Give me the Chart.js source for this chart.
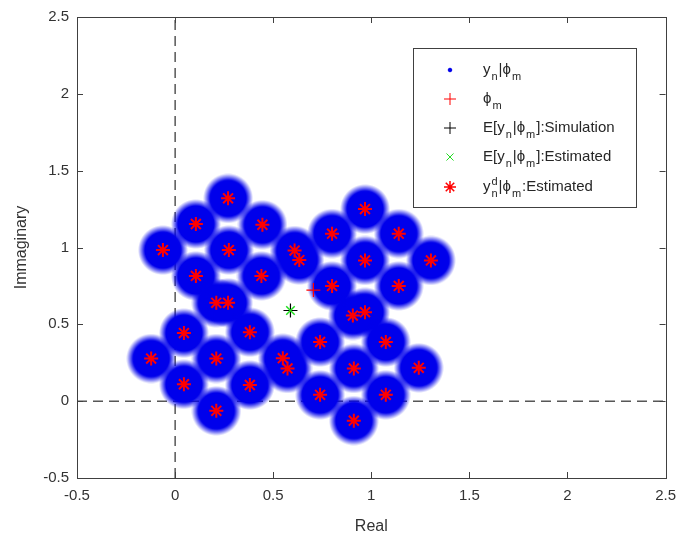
<!DOCTYPE html>
<html lang="en">
<head>
    <meta charset="UTF-8" />
    <title>Constellation Scatter</title>
    <script src="https://cdn.jsdelivr.net/npm/chart.js"></script>
    <style>
        * { box-sizing: border-box; margin: 0; padding: 0; }
        body { background: #fff; }
        canvas { display: block; }
    </style>
</head>
<body>
    <canvas id="constChart" width="685" height="546"></canvas>

    <script>
        // estimated cluster centres y^d_n | phi_m (red asterisks, blue clouds around them)
        const ydRe = [
            0.27, 0.106, 0.445, -0.062, 0.274, 0.106, 0.44, 0.21, 0.27,
            0.968, 0.80, 1.14, 0.609, 0.633, 0.968, 1.304, 0.80, 1.14, 0.906, 0.968,
            0.045, 0.381, -0.122, 0.21, 0.549, 0.573, 0.045, 0.381, 0.21,
            0.739, 1.074, 0.911, 1.242, 0.739, 1.074, 0.911
        ];
        const ydIm = [
            1.32, 1.153, 1.148, 0.983, 0.983, 0.815, 0.815, 0.64, 0.64,
            1.25, 1.09, 1.09, 0.98, 0.918, 0.916, 0.916, 0.75, 0.75, 0.557, 0.579,
            0.443, 0.449, 0.277, 0.277, 0.28, 0.213, 0.11, 0.105, -0.063,
            0.385, 0.385, 0.213, 0.217, 0.041, 0.041, -0.127
        ];
        // phi_m
        const phiRe = [0.705];
        const phiIm = [0.723];
        // E[y_n | phi_m], simulation and estimate
        const simRe = [0.588];
        const simIm = [0.59];
        const estRe = [0.588];
        const estIm = [0.59];

        const axisMin = -0.5;
        const axisMax = 2.5;
        const xTickLabels = ['-0.5', '0', '0.5', '1', '1.5', '2', '2.5'];
        const yTickLabels = ['-0.5', '0', '0.5', '1', '1.5', '2', '2.5'];

        const toPts = (re, im) => re.map((x, i) => ({ x: x, y: im[i] }));

        const BLUE = 'rgb(0,0,235)';
        const FONT = "'Liberation Sans', Arial, sans-serif";

        // soft blue disk used as the marker for each sample cloud
        function makeCloud(rSolid, rOuter) {
            const c = document.createElement('canvas');
            const s = Math.ceil(rOuter * 2);
            c.width = s;
            c.height = s;
            const g = c.getContext('2d');
            const grad = g.createRadialGradient(s / 2, s / 2, 0, s / 2, s / 2, rOuter);
            grad.addColorStop(0, 'rgba(0,0,235,1)');
            grad.addColorStop(rSolid / rOuter, 'rgba(0,0,235,1)');
            grad.addColorStop(1, 'rgba(0,0,235,0)');
            g.fillStyle = grad;
            g.fillRect(0, 0, s, s);
            return c;
        }
        const cloud = makeCloud(18, 25);

        // box, inward ticks and the legend
        const framePlugin = {
            id: 'frame',
            afterDraw(chart) {
                const ctx = chart.ctx;
                const a = chart.chartArea;
                const xs = chart.scales.x, ys = chart.scales.y;
                ctx.save();
                ctx.strokeStyle = '#404040';
                ctx.lineWidth = 1;
                ctx.strokeRect(Math.round(a.left) + 0.5, Math.round(a.top) + 0.5,
                    Math.round(a.right - a.left), Math.round(a.bottom - a.top));
                ctx.beginPath();
                xs.ticks.forEach(t => {
                    const px = Math.round(xs.getPixelForValue(t.value)) + 0.5;
                    ctx.moveTo(px, a.bottom); ctx.lineTo(px, a.bottom - 6);
                    ctx.moveTo(px, a.top); ctx.lineTo(px, a.top + 6);
                });
                ys.ticks.forEach(t => {
                    const py = Math.round(ys.getPixelForValue(t.value)) + 0.5;
                    ctx.moveTo(a.left, py); ctx.lineTo(a.left + 6, py);
                    ctx.moveTo(a.right, py); ctx.lineTo(a.right - 6, py);
                });
                ctx.stroke();

                // legend
                const bx = 413.5, by = 48.5, bw = 223, bh = 159;
                ctx.fillStyle = '#fff';
                ctx.fillRect(bx, by, bw, bh);
                ctx.strokeStyle = '#404040';
                ctx.strokeRect(bx, by, bw, bh);

                const entries = [
                    { style: 'circle', r: 1.8, color: BLUE, lw: 1,
                      parts: [['y'], ['n', 'sub'], ['|ϕ'], ['m', 'sub']] },
                    { style: 'cross', r: 6, color: '#ff0000', lw: 1,
                      parts: [['ϕ'], ['m', 'sub']] },
                    { style: 'cross', r: 6, color: '#000', lw: 1,
                      parts: [['E[y'], ['n', 'sub'], ['|ϕ'], ['m', 'sub'], [']:Simulation']] },
                    { style: 'crossRot', r: 5, color: '#22dd22', lw: 1,
                      parts: [['E[y'], ['n', 'sub'], ['|ϕ'], ['m', 'sub'], [']:Estimated']] },
                    { style: 'star', r: 6, color: '#ff0000', lw: 1.5,
                      parts: [['y'], ['d', 'supsub', 'n'], ['|ϕ'], ['m', 'sub'], [':Estimated']] }
                ];
                const rows = [70, 99, 128, 157, 187];
                entries.forEach((e, i) => {
                    const y = rows[i];
                    ctx.fillStyle = e.color;
                    ctx.strokeStyle = e.color;
                    ctx.lineWidth = e.lw;
                    Chart.helpers.drawPoint(ctx, {
                        pointStyle: e.style, radius: e.r, borderWidth: e.lw, rotation: 0
                    }, 450, y);
                    let x = 483;
                    ctx.fillStyle = '#262626';
                    ctx.textBaseline = 'middle';
                    ctx.textAlign = 'left';
                    e.parts.forEach(p => {
                        if (!p[1]) {
                            ctx.font = '15px ' + FONT;
                            ctx.fillText(p[0], x, y);
                            x += ctx.measureText(p[0]).width;
                        } else if (p[1] === 'sub') {
                            ctx.font = '11px ' + FONT;
                            ctx.fillText(p[0], x + 1, y + 7);
                            x += ctx.measureText(p[0]).width + 2;
                        } else {
                            ctx.font = '11px ' + FONT;
                            ctx.fillText(p[0], x + 1, y - 5);
                            ctx.fillText(p[2], x + 1, y + 7);
                            x += Math.max(ctx.measureText(p[0]).width, ctx.measureText(p[2]).width) + 2;
                        }
                    });
                });
                ctx.restore();
            }
        };

        const ctx = document.getElementById('constChart').getContext('2d');
        const constChart = new Chart(ctx, {
            type: 'scatter',
            data: {
                datasets: [
                    {
                        label: 'E[y|phi]:Estimated',
                        data: toPts(estRe, estIm),
                        pointStyle: 'crossRot',
                        pointRadius: 6,
                        borderColor: '#22dd22',
                        borderWidth: 1.5
                    },
                    {
                        label: 'E[y|phi]:Simulation',
                        data: toPts(simRe, simIm),
                        pointStyle: 'cross',
                        pointRadius: 7,
                        borderColor: '#000',
                        borderWidth: 1.2
                    },
                    {
                        label: 'phi',
                        data: toPts(phiRe, phiIm),
                        pointStyle: 'cross',
                        pointRadius: 7,
                        borderColor: '#ff0000',
                        borderWidth: 1.2
                    },
                    {
                        label: 'yd:Estimated',
                        data: toPts(ydRe, ydIm),
                        pointStyle: 'star',
                        pointRadius: 7,
                        borderColor: '#ff0000',
                        borderWidth: 2
                    },
                    {
                        label: 'y|phi',
                        data: toPts(ydRe, ydIm),
                        pointStyle: cloud
                    },
                    {
                        label: 'Re=0',
                        data: [{ x: 0, y: axisMin }, { x: 0, y: axisMax }],
                        showLine: true,
                        pointRadius: 0,
                        borderColor: '#000',
                        borderWidth: 1,
                        borderDash: [10, 6]
                    },
                    {
                        label: 'Im=0',
                        data: [{ x: axisMin, y: 0 }, { x: axisMax, y: 0 }],
                        showLine: true,
                        pointRadius: 0,
                        borderColor: '#000',
                        borderWidth: 1,
                        borderDash: [10, 6]
                    }
                ]
            },
            options: {
                responsive: false,
                animation: false,
                layout: { padding: { left: 0, right: 13, top: 11, bottom: 0 } },
                plugins: {
                    legend: { display: false },
                    tooltip: { enabled: false }
                },
                scales: {
                    x: {
                        min: axisMin,
                        max: axisMax,
                        grid: { display: false, drawTicks: false },
                        border: { display: false },
                        afterFit: s => { s.height = 68; },
                        ticks: {
                            stepSize: 0.5,
                            autoSkip: false,
                            maxRotation: 0,
                            padding: 9,
                            color: '#333',
                            font: { family: FONT, size: 15 },
                            callback: (v, i) => xTickLabels[i]
                        },
                        title: {
                            display: true,
                            text: 'Real',
                            color: '#333',
                            font: { family: FONT, size: 16 },
                            padding: { top: 0, bottom: 10 }
                        }
                    },
                    y: {
                        min: axisMin,
                        max: axisMax,
                        grid: { display: false, drawTicks: false },
                        border: { display: false },
                        afterFit: s => { s.width = 77; },
                        ticks: {
                            stepSize: 0.5,
                            autoSkip: false,
                            padding: 8,
                            color: '#333',
                            font: { family: FONT, size: 15 },
                            callback: (v, i) => yTickLabels[i]
                        },
                        title: {
                            display: true,
                            text: 'Immaginary',
                            color: '#333',
                            font: { family: FONT, size: 16 },
                            padding: { top: 12, bottom: 0 }
                        }
                    }
                }
            },
            plugins: [framePlugin]
        });
    </script>
</body>
</html>
